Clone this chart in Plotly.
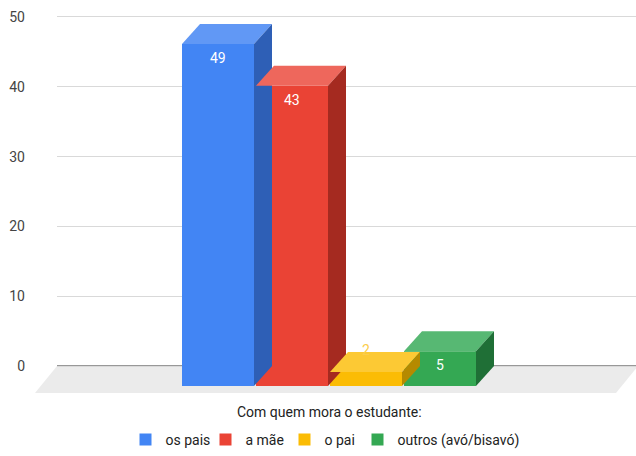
import plotly.graph_objects as go

categories = ["os pais", "a mãe", "o pai", "outros (avó/bisavó)"]
values = [49, 43, 2, 5]
front_colors = ["#4285F4", "#EA4335", "#FBBC04", "#34A853"]
top_colors = ["#6198f5", "#ee675c", "#fcc934", "#57b873"]
side_colors = ["#2e5fb6", "#a52a20", "#b58a00", "#1f6f36"]
y_ticks = [0, 10, 20, 30, 40, 50]
x_title = "Com quem mora o estudante:"
legend_widths = [35, 34, 28, 128]

# geometry of the pseudo-3D projection
W, H = 636, 456
ML, MR, MT, MB = 57, 0, 3, 62
PW, PH = W - ML - MR, H - MT - MB
YR = [-4, 52]
PX_Y = PH / (YR[1] - YR[0])
SLOT_PX = 74.0
X0_PX = 218.0  # pixel x of first category centre
XR = [(ML - X0_PX) / SLOT_PX, (W - MR - X0_PX) / SLOT_PX]
BAR_W = 72 / SLOT_PX
DX = 18 / SLOT_PX        # depth offset in x units
DY = 20 / PX_Y           # depth offset in y units


def px_to_paper_x(px):
    return (px - ML) / PW


def px_to_paper_y(py):
    return (H - MB - py) / PH


def val_to_paper_y(v):
    return (v - YR[0]) / (YR[1] - YR[0])


fig = go.Figure()

# floor (paper coords so it may extend beyond the plot area on the left)
fl_depth = 27 / PX_Y
fx0b, fx1b = px_to_paper_x(ML), px_to_paper_x(W + 2)
fx0f, fx1f = px_to_paper_x(35), px_to_paper_x(616)
fyb, fyf = val_to_paper_y(0), val_to_paper_y(-fl_depth)
fig.add_shape(type="path", xref="paper", yref="paper",
              path=f"M {fx0b},{fyb} L {fx1b},{fyb} L {fx1f},{fyf} L {fx0f},{fyf} Z",
              fillcolor="#ebebeb", line=dict(width=0), layer="below")
fig.add_shape(type="line", x0=XR[0], x1=XR[1] + 0.01, y0=0, y1=0,
              line=dict(color="#333333", width=1.2), layer="below")

for i, (cat, v) in enumerate(zip(categories, values)):
    x = i
    l, r = x - BAR_W / 2, x + BAR_W / 2
    # front face
    fig.add_trace(go.Bar(x=[x], y=[v], base=[-DY], width=[BAR_W], name=cat,
                         marker=dict(color=front_colors[i], line=dict(width=0)),
                         legendwidth=legend_widths[i],
                         hoverinfo="skip"))
    # top face
    fig.add_trace(go.Scatter(x=[l, r, r + DX, l + DX, l],
                             y=[v - DY, v - DY, v, v, v - DY],
                             fill="toself", mode="lines", line=dict(width=0),
                             fillcolor=top_colors[i], showlegend=False, hoverinfo="skip"))
    # side face
    fig.add_trace(go.Scatter(x=[r, r, r + DX, r + DX, r],
                             y=[-DY, v - DY, v, 0, -DY],
                             fill="toself", mode="lines", line=dict(width=0),
                             fillcolor=side_colors[i], showlegend=False, hoverinfo="skip"))
    # value label
    front_h_px = v * PX_Y
    if front_h_px > 28:
        fig.add_annotation(x=x, y=v - DY, yshift=-14, text=str(v), showarrow=False,
                           font=dict(color="white", size=14, family="Roboto, Arial"),
                           yanchor="middle")
    else:
        fig.add_annotation(x=x, y=v - DY, yshift=22, text=str(v), showarrow=False,
                           font=dict(color="#fbcd4c", size=14, family="Roboto, Arial"),
                           yanchor="middle")

fig.add_annotation(xref="paper", yref="paper", x=px_to_paper_x(329), y=px_to_paper_y(412),
                   text=x_title, showarrow=False, xanchor="center", yanchor="middle",
                   font=dict(size=14, color="#222222", family="Roboto, Arial"))

fig.update_layout(
    width=W, height=H,
    margin=dict(l=ML, r=MR, t=MT, b=MB, autoexpand=False),
    plot_bgcolor="white", paper_bgcolor="white",
    barmode="overlay",
    showlegend=True,
    legend=dict(orientation="h", x=px_to_paper_x(328), xanchor="center",
                y=px_to_paper_y(440), yanchor="middle",
                font=dict(size=14, color="#222222", family="Roboto, Arial"),
                itemwidth=30, traceorder="normal"),
    font=dict(family="Roboto, Arial", color="#444444"),
)
fig.update_xaxes(range=XR, showgrid=False, zeroline=False, showticklabels=False,
                 fixedrange=True, automargin=False)
fig.update_yaxes(range=YR, tickvals=y_ticks, ticktext=[str(t) for t in y_ticks],
                 showgrid=True, gridcolor="#d9d9d9", gridwidth=1, zeroline=False,
                 automargin=False, fixedrange=True,
                 tickfont=dict(size=14, color="#444444"), ticklabelstandoff=31)

fig.write_html("out.html", config={"displayModeBar": False},
               post_script="document.body.style.margin='0';document.body.style.overflow='hidden';")
